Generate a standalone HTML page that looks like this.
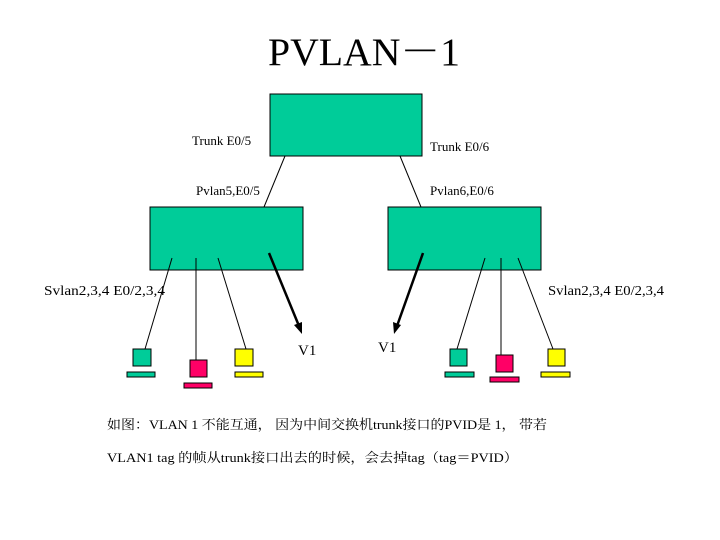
<!DOCTYPE html>
<html><head><meta charset="utf-8"><style>
body{margin:0;background:#fff}
svg{display:block}
text{font-family:"Liberation Serif","Noto Serif CJK SC",serif;fill:#000}
</style></head><body>
<svg width="720" height="540" xmlns="http://www.w3.org/2000/svg">
<text x="268" y="65" font-size="39" textLength="192" lengthAdjust="spacingAndGlyphs">PVLAN－1</text>
<g fill="#00cc99" stroke="#000" stroke-width="1">
<rect x="270" y="94" width="152" height="62"/>
<rect x="150" y="207" width="153" height="63"/>
<rect x="388" y="207" width="153" height="63"/>
</g>
<g stroke="#000" stroke-width="1">
<line x1="285" y1="156" x2="264" y2="207"/>
<line x1="400" y1="156" x2="421" y2="207"/>
<line x1="172" y1="258" x2="145" y2="349"/>
<line x1="196" y1="258" x2="196" y2="360"/>
<line x1="218" y1="258" x2="246" y2="349"/>
<line x1="485" y1="258" x2="457" y2="349"/>
<line x1="501" y1="258" x2="501" y2="355"/>
<line x1="518" y1="258" x2="553" y2="349"/>
</g>
<g stroke="#000" stroke-width="2.5">
<line x1="269" y1="253" x2="299" y2="326"/>
<line x1="423" y1="253" x2="397" y2="326"/>
</g>
<polygon points="302,334 294,325 302,322" fill="#000"/>
<polygon points="394,334 393,322 401,325" fill="#000"/>
<g stroke="#000" stroke-width="1">
<rect x="133" y="349" width="18" height="17" fill="#00cc99"/>
<rect x="127" y="372" width="28" height="5" fill="#00cc99"/>
<rect x="190" y="360" width="17" height="17" fill="#ff0066"/>
<rect x="184" y="383" width="28" height="5" fill="#ff0066"/>
<rect x="235" y="349" width="18" height="17" fill="#ffff00"/>
<rect x="235" y="372" width="28" height="5" fill="#ffff00"/>
<rect x="450" y="349" width="17" height="17" fill="#00cc99"/>
<rect x="445" y="372" width="29" height="5" fill="#00cc99"/>
<rect x="496" y="355" width="17" height="17" fill="#ff0066"/>
<rect x="490" y="377" width="29" height="5" fill="#ff0066"/>
<rect x="548" y="349" width="17" height="17" fill="#ffff00"/>
<rect x="541" y="372" width="29" height="5" fill="#ffff00"/>
</g>
<g font-size="13">
<text x="192" y="145">Trunk E0/5</text>
<text x="430" y="151">Trunk E0/6</text>
<text x="196" y="195">Pvlan5,E0/5</text>
<text x="430" y="195">Pvlan6,E0/6</text>
<text x="44" y="295" font-size="14" textLength="121" lengthAdjust="spacingAndGlyphs">Svlan2,3,4  E0/2,3,4</text>
<text x="548" y="295" font-size="14" textLength="116" lengthAdjust="spacingAndGlyphs">Svlan2,3,4  E0/2,3,4</text>
</g>
<text x="298" y="355" font-size="15">V1</text>
<text x="378" y="352" font-size="15">V1</text>
<g font-size="13">
<text x="107" y="429" textLength="440" lengthAdjust="spacingAndGlyphs">如图：VLAN 1 不能互通， 因为中间交换机trunk接口的PVID是 1， 带若</text>
<text x="107" y="462" textLength="411" lengthAdjust="spacingAndGlyphs">VLAN1 tag 的帧从trunk接口出去的时候，会去掉tag（tag＝PVID）</text>
</g>
</svg>
</body></html>
